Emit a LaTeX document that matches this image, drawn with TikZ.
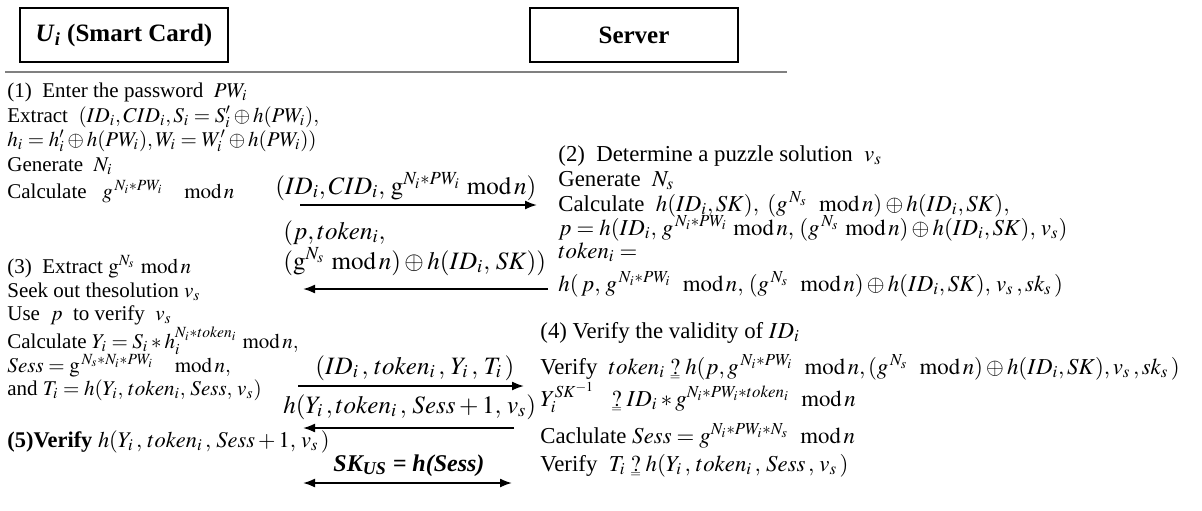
\documentclass[tikz,border=0pt]{standalone}
\usepackage{amsmath}
\usepackage{mathptmx}
\usepackage[no-math]{fontspec}
\setmainfont{Liberation Serif}
\usetikzlibrary{arrows.meta}
\newcommand{\qeq}{\mathrel{\ooalign{$?$\cr\hidewidth\raisebox{-0.6ex}{$\scriptscriptstyle=$}\hidewidth\cr}}}
\newcommand{\md}{\ \mathrm{mod}\,}
\tikzset{
  line/.style={anchor=base west,inner sep=0pt,font=\fontsize{10.5}{12}\selectfont},
  rline/.style={line,font=\fontsize{11.4}{13}\selectfont},
  msg/.style={anchor=base west,inner sep=0pt,font=\fontsize{12.5}{14}\selectfont},
  head/.style={draw,line width=0.7pt,minimum width=104pt,minimum height=27pt,inner sep=0pt,font=\fontsize{12.5}{14}\selectfont\bfseries},
  flow/.style={line width=0.9pt,-{Latex[length=6pt,width=4.5pt]}},
  both/.style={line width=0.9pt,{Latex[length=6pt,width=4.5pt]}-{Latex[length=6pt,width=4.5pt]}}
}
\begin{document}
\begin{tikzpicture}[x=0.5pt,y=-0.5pt]
  \useasboundingbox (0,0) rectangle (1202,510);
  \node[head] (card) at (124,35) {\textit{U}\textsubscript{\textit{i}} (Smart Card)};
  \node[head] (server) at (634,35) {Server};
  \coordinate (L) at (5,72);
  \coordinate (R) at (787,72);
  \draw[gray,line width=0.6pt] (L)--(R);
  \node[line] (u1) at (7,97) {(1)\ \ Enter the password\ \ $PW_i$};
  \node[line] (u2) at (7,122) {Extract\ \ $(ID_i,CID_i,S_i=S_i'\oplus h(PW_i),$};
  \node[line] (u3) at (7,146) {$h_i=h_i'\oplus h(PW_i),W_i=W_i'\oplus h(PW_i))$};
  \node[line] (u4) at (7,171) {Generate\ \ $N_i$};
  \node[line] (u5) at (7,198) {Calculate\ \ \ $g^{\,N_i*PW_i}\ \ \ \ \mathrm{mod}\,n$};
  \node[line] (u6) at (7,273) {(3)\ \ Extract $\mathrm{g}^{N_s}\md n$};
  \node[line] (u7) at (7,297) {Seek out thesolution $v_s$};
  \node[line] (u8) at (7,320) {Use\ \ $p$\ \ to verify\ \ $v_s$};
  \node[line] (u9) at (7,348) {Calculate $Y_i=S_i*h_i^{N_i*token_i}\md n,$};
  \node[line] (u10) at (7,372) {$Sess=\mathrm{g}^{\,N_s*N_i*PW_i}\ \ \ \ \mathrm{mod}\,n,$};
  \node[line] (u11) at (7,395) {and $T_i=h(Y_i,\,token_i,\,Sess,\,v_s)$};
  \node[line,font=\fontsize{11.2}{13}\selectfont] (u12) at (7,447) {\textbf{(5)Verify} $h(Y_i\,,\,token_i\,,\,Sess+1,\,v_s\,)$};
  \node[rline] (s1) at (558,161) {(2)\ \ Determine a puzzle solution\ \ $v_s$};
  \node[rline] (s2) at (558,186) {Generate\ \ $N_s$};
  \node[rline] (s3) at (558,211) {Calculate\ \ $h(ID_i,SK),\ (g^{\,N_s}\ \md n)\oplus h(ID_i,SK),$};
  \node[rline] (s4) at (558,235) {$p=h(ID_i,\,g^{\,N_i*PW_i}\md n,\,(g^{\,N_s}\md n)\oplus h(ID_i,SK),\,v_s)$};
  \node[rline] (s5) at (558,258) {$token_i=$};
  \node[rline] (s6) at (558,291) {$h(\,p,\,g^{\,N_i*PW_i}\ \md n,\,(g^{\,N_s}\ \md n)\oplus h(ID_i,SK),\,v_s\,,sk_s\,)$};
  \node[rline] (s7) at (540,338) {(4) Verify the validity of $ID_i$};
  \node[rline] (s8) at (540,374) {Verify\ \ $token_i\qeq h(p,g^{\,N_i*PW_i}\ \md n,(g^{\,N_s}\ \md n)\oplus h(ID_i,SK),v_s\,,sk_s\,)$};
  \node[rline] (s9) at (540,406) {$Y_i^{SK^{-1}}\ \ \qeq ID_i*g^{N_i*PW_i*token_i}\ \md n$};
  \node[rline] (s10) at (540,443) {Caclulate $Sess=g^{N_i*PW_i*N_s}\ \md n$};
  \node[rline] (s11) at (540,471) {Verify\ \ $T_i\qeq h(Y_i\,,\,token_i\,,\,Sess\,,\,v_s\,)$};
  \node[msg] (m1) at (275,194) {$(ID_i,CID_i,\,\mathrm{g}^{N_i*PW_i}\ \mathrm{mod}\,n)$};
  \node[msg] (m2) at (283,239) {$(p,token_i,$};
  \node[msg] (m3) at (283,269) {$(\mathrm{g}^{N_s}\ \mathrm{mod}\,n)\oplus h(ID_i,\,SK))$};
  \node[msg] (m4) at (315,374) {$(ID_i\,,\,token_i\,,\,Y_i\,,\,T_i\,)$};
  \node[msg] (m5) at (283,413) {$h(Y_i\,,token_i\,,\,Sess+1,\,v_s)$};
  \node[msg,font=\fontsize{12}{14}\selectfont] (m6) at (333,471) {\bfseries\itshape SK\textsubscript{US} = h(Sess)};
  \coordinate (a1) at (300,205);
  \coordinate (b1) at (537,205);
  \coordinate (a2) at (303,289);
  \coordinate (b2) at (548,289);
  \coordinate (a3) at (298,386);
  \coordinate (b3) at (524,386);
  \coordinate (a4) at (303,428);
  \coordinate (b4) at (514,428);
  \coordinate (a5) at (303,483);
  \coordinate (b5) at (512,483);
  \draw[flow] (a1)--(b1);
  \draw[flow] (b2)--(a2);
  \draw[flow] (a3)--(b3);
  \draw[flow] (b4)--(a4);
  \draw[both] (a5)--(b5);
\end{tikzpicture}
\end{document}
